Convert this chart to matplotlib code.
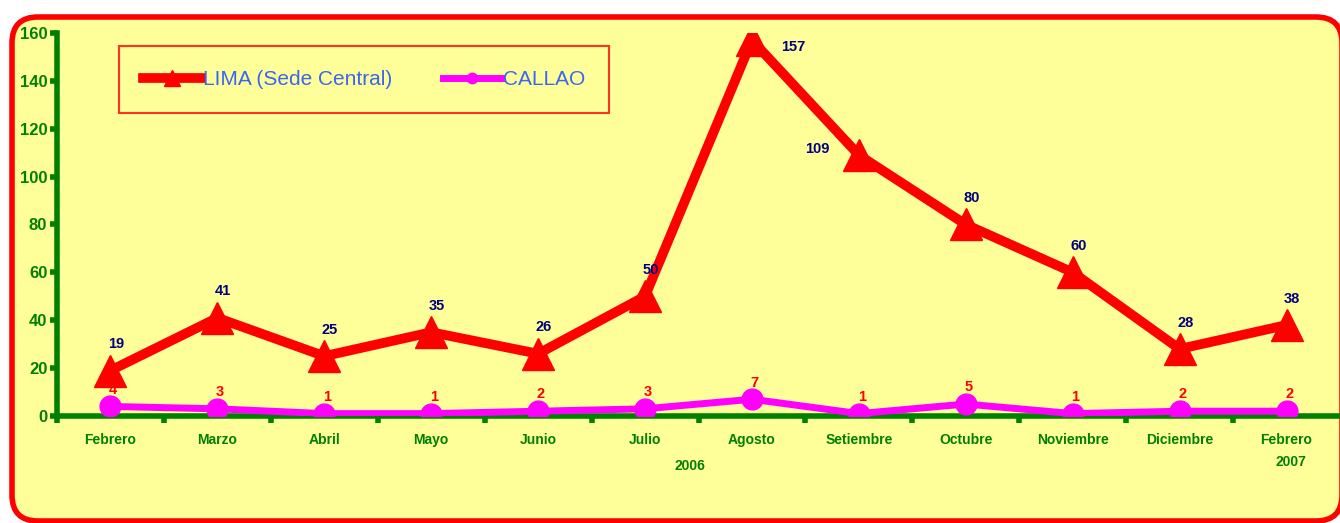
import numpy as np
import matplotlib.pyplot as plt
from matplotlib.patches import FancyBboxPatch

plt.rcParams['font.family'] = ['Liberation Sans', 'DejaVu Sans']

# Data
months = ['Febrero', 'Marzo', 'Abril', 'Mayo', 'Junio', 'Julio', 'Agosto',
          'Setiembre', 'Octubre', 'Noviembre', 'Diciembre', 'Febrero']
lima = [19, 41, 25, 35, 26, 50, 157, 109, 80, 60, 28, 38]
callao = [4, 3, 1, 1, 2, 3, 7, 1, 5, 1, 2, 2]

green = '#008000'
x = np.arange(len(months))

fig = plt.figure(figsize=(13.4, 5.23), dpi=100)
fig.patch.set_facecolor('white')

# rounded background frame, drawn in a pixel-sized background axes
bg = fig.add_axes([0, 0, 1, 1], zorder=0)
bg.set_xlim(0, 1340)
bg.set_ylim(523, 0)
bg.axis('off')
bg.add_patch(FancyBboxPatch((12, 17), 1330, 504,
                            boxstyle='round,pad=0,rounding_size=26',
                            facecolor='#FFFF99', edgecolor='red', linewidth=4))

ax = fig.add_axes([57 / 1340, 1 - 416 / 523, 1 - 57 / 1340, (416 - 33) / 523],
                  zorder=1)
ax.set_facecolor('none')

ax.plot(x, lima, color='red', linewidth=7, marker='^', markersize=23,
        solid_joinstyle='round', label='LIMA (Sede Central)', zorder=3)
ax.plot(x, callao, color='#FF00FF', linewidth=5, marker='o', markersize=15,
        label='CALLAO', zorder=4)

ax.set_xlim(-0.5, 11.5)
ax.set_ylim(0, 160)
ax.set_yticks(range(0, 161, 20))
ax.set_xticks(x)
ax.set_xticklabels(months)
ax.set_xticks(np.arange(-0.5, 11.5, 1), minor=True)

for s in ['top', 'right']:
    ax.spines[s].set_visible(False)
for s in ['left', 'bottom']:
    ax.spines[s].set_color(green)
    ax.spines[s].set_linewidth(4)
ax.tick_params(axis='y', colors=green, length=5, width=4, labelsize=12, pad=2)
ax.tick_params(axis='x', which='major', length=0, colors=green, labelsize=10, pad=12)
ax.tick_params(axis='x', which='minor', length=5, width=4, color=green)
for t in ax.get_xticklabels() + ax.get_yticklabels():
    t.set_fontweight('bold')

# value labels
for i, v in enumerate(lima):
    dx, dy, ha = 0, 14, 'center'
    if i == 6:
        dx, dy, ha = 17, -10, 'left'
    elif i == 7:
        dx, dy, ha = -25, -1, 'right'
    ax.annotate(str(v), (i, v), xytext=(4 + dx, dy), textcoords='offset points',
                ha=ha, va='bottom', color='#000080', fontsize=10.5,
                fontweight='bold', zorder=6)
for i, v in enumerate(callao):
    ax.annotate(str(v), (i, v), xytext=(2, 7), textcoords='offset points',
                ha='center', va='bottom', color='red', fontsize=10.5,
                fontweight='bold', zorder=6)

# year labels
fig.text(690 / 1340, 1 - 466 / 523, '2006', color=green, fontsize=10,
         fontweight='bold', ha='center', va='center')
fig.text(1291 / 1340, 1 - 462 / 523, '2007', color=green, fontsize=10,
         fontweight='bold', ha='center', va='center')

leg = ax.legend(loc='upper left', bbox_to_anchor=(62 / 1283, 1 - 13 / 383),
                borderaxespad=0, ncol=2, frameon=True, fontsize=15,
                handlelength=2.8, handletextpad=0.1, columnspacing=2.4,
                borderpad=1.15, fancybox=False, markerscale=0.5)
leg.get_frame().set_edgecolor('red')
leg.get_frame().set_facecolor('#FFFF99')
leg.get_frame().set_linewidth(1.5)
for t in leg.get_texts():
    t.set_color('#3A66F0')

fig.savefig('out.png', dpi=100)
